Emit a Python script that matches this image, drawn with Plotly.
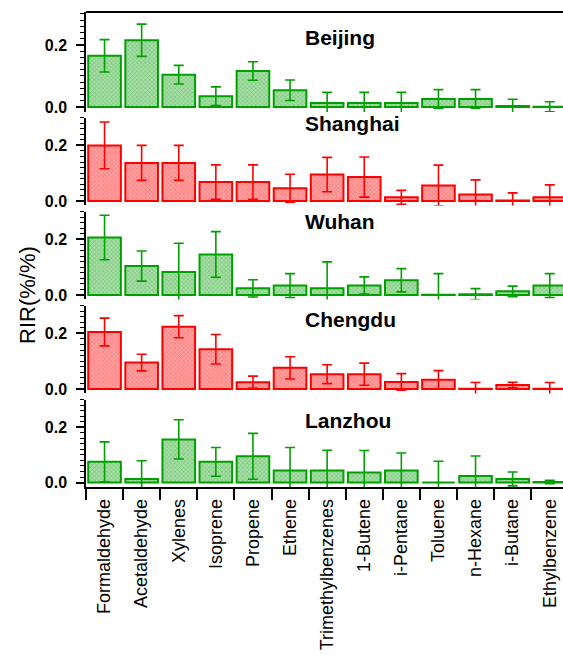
import plotly.graph_objects as go
from plotly.subplots import make_subplots

categories = ["Formaldehyde", "Acetaldehyde", "Xylenes", "Isoprene", "Propene", "Ethene",
              "Trimethylbenzenes", "1-Butene", "i-Pentane", "Toluene", "n-Hexane", "i-Butane",
              "Ethylbenzene"]
cities = ["Beijing", "Shanghai", "Wuhan", "Chengdu", "Lanzhou"]

beijing_rir = [0.165, 0.215, 0.104, 0.035, 0.116, 0.054, 0.013, 0.013, 0.013, 0.026, 0.026, 0.003, 0.001]
beijing_err = [0.052, 0.052, 0.030, 0.030, 0.030, 0.033, 0.034, 0.034, 0.034, 0.030, 0.030, 0.022, 0.016]
shanghai_rir = [0.200, 0.137, 0.137, 0.068, 0.068, 0.046, 0.095, 0.086, 0.013, 0.056, 0.023, 0.002, 0.013]
shanghai_err = [0.084, 0.063, 0.063, 0.062, 0.062, 0.050, 0.062, 0.072, 0.025, 0.073, 0.053, 0.027, 0.045]
wuhan_rir = [0.207, 0.104, 0.083, 0.146, 0.024, 0.034, 0.024, 0.034, 0.053, 0.001, 0.003, 0.013, 0.034]
wuhan_err = [0.080, 0.054, 0.103, 0.082, 0.031, 0.043, 0.095, 0.031, 0.042, 0.076, 0.020, 0.019, 0.043]
chengdu_rir = [0.205, 0.095, 0.224, 0.143, 0.024, 0.076, 0.053, 0.053, 0.025, 0.033, 0.001, 0.014, 0.001]
chengdu_err = [0.050, 0.030, 0.040, 0.053, 0.022, 0.040, 0.034, 0.040, 0.030, 0.033, 0.022, 0.010, 0.022]
lanzhou_rir = [0.075, 0.013, 0.156, 0.075, 0.095, 0.044, 0.044, 0.036, 0.044, 0.000, 0.024, 0.013, 0.002]
lanzhou_err = [0.072, 0.066, 0.071, 0.052, 0.083, 0.083, 0.073, 0.080, 0.063, 0.077, 0.072, 0.025, 0.006]

y_tick_vals = [0.0, 0.2]
y_tick_text = ["0.0", "0.2"]

values = [beijing_rir, shanghai_rir, wuhan_rir, chengdu_rir, lanzhou_rir]
errors = [beijing_err, shanghai_err, wuhan_err, chengdu_err, lanzhou_err]

GREEN = "#00a000"
RED = "#ff0000"
edge_colors = [GREEN, RED, GREEN, RED, GREEN]
fill_colors = ["#a6dca6", "#ffa0a0", "#a6dca6", "#ffa0a0", "#a6dca6"]
fg_colors = ["#3fb03f", "#ff4a4a", "#3fb03f", "#ff4a4a", "#3fb03f"]

domains = [[0.7895, 1.0], [0.5928, 0.7777], [0.3949, 0.5798], [0.1971, 0.3819], [0.0, 0.184]]
ranges = [[-0.016, 0.306], [-0.016, 0.3], [-0.016, 0.3], [-0.016, 0.3], [-0.016, 0.3]]
title_y = [0.947, 0.7663, 0.5579, 0.3516, 0.141]

FONT = "Liberation Sans, Arial, sans-serif"

fig = make_subplots(rows=5, cols=1, shared_xaxes=True, vertical_spacing=0.02)

for i in range(5):
    fig.add_trace(go.Bar(
        x=categories, y=values[i],
        marker=dict(color=fill_colors[i],
                    line=dict(color=edge_colors[i], width=2),
                    pattern=dict(shape="x", size=3, solidity=0.35,
                                 fgcolor=fg_colors[i], bgcolor=fill_colors[i],
                                 fillmode="overlay")),
        error_y=dict(type="data", array=errors[i], visible=True,
                     color=edge_colors[i], thickness=1.6, width=5),
        width=0.88, showlegend=False, cliponaxis=True,
    ), row=i + 1, col=1)

x_range = [-0.5, -0.5 + 477 / 37.1]

for i in range(5):
    yname = "yaxis" if i == 0 else f"yaxis{i + 1}"
    fig.layout[yname].update(
        domain=domains[i], range=ranges[i],
        tickmode="array", tickvals=y_tick_vals, ticktext=y_tick_text,
        ticks="outside", ticklen=8, tickwidth=1.5, tickcolor="black",
        minor=dict(dtick=0.02, tick0=0, ticks="outside", ticklen=4, tickwidth=1, tickcolor="black"),
        showline=True, linecolor="black", linewidth=1.5,
        showgrid=False, zeroline=False,
        tickfont=dict(family=FONT, size=16, color="black", weight="bold"),
        ticklabelstandoff=6,
    )
    xname = "xaxis" if i == 0 else f"xaxis{i + 1}"
    if i < 4:
        fig.layout[xname].update(range=x_range, showline=False, ticks="", showticklabels=False,
                                 showgrid=False, zeroline=False)
    else:
        fig.layout[xname].update(range=x_range, showline=True, linecolor="black", linewidth=1.5,
                                 ticks="outside", tickson="boundaries", ticklen=11, tickwidth=1.5,
                                 tickcolor="black", tickangle=-90, showgrid=False, zeroline=False,
                                 tickfont=dict(family=FONT, size=18, color="black"),
                                 ticklabelstandoff=3, showticklabels=True)

for i in range(5):
    fig.add_annotation(text=cities[i], xref="paper", yref="paper", x=0.455, y=title_y[i],
                       xanchor="left", yanchor="middle", showarrow=False,
                       font=dict(family=FONT, size=21, color="black", weight="bold"))

fig.add_annotation(text="RIR(%/%)", xref="paper", yref="paper", x=-0.124, y=0.404,
                   xanchor="center", yanchor="middle", textangle=-90, showarrow=False,
                   font=dict(family=FONT, size=22, color="black"))

fig.add_shape(type="line", xref="paper", yref="paper", x0=0, x1=1, y0=1, y1=1,
              line=dict(color="black", width=2))

fig.update_layout(width=563, height=655, margin=dict(l=86, r=0, t=12, b=168),
                  paper_bgcolor="white", plot_bgcolor="white", bargap=0.1)

fig.write_html("out.html")
